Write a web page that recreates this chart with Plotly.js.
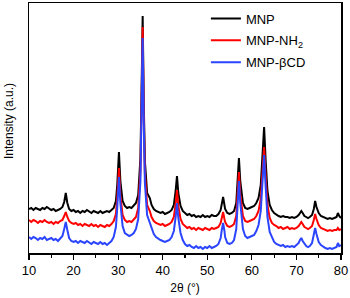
<!DOCTYPE html>
<html>
<head>
<meta charset="utf-8">
<script src="https://cdn.plot.ly/plotly-3.0.1.min.js"></script>
<style>html,body{margin:0;padding:0;background:#fff;}#chart{width:350px;height:298px;}</style>
</head>
<body>
<div id="chart"></div>
<script>
// 2θ positions (degrees)
const twoTheta = [
  10,10.5,11,11.5,12,12.5,13,13.5,14,14.5,15,15.5,16,16.5,17,17.5,
  17.9,18.25,18.6,
  19,19.5,20,20.5,21,21.5,22,22.5,23,23.5,24,24.5,25,25.5,26,26.5,27,27.5,28,28.5,29,29.5,
  29.8,30.18,30.5,
  31,31.5,32,32.5,33,33.5,34,34.5,35,35.25,35.5,35.75,36,36.5,37.1,37.5,38,38.5,39,39.5,40,40.5,41,41.5,42,42.5,
  42.9,43.2,43.5,
  44,44.5,45,45.5,46,46.5,47,47.5,48,48.5,49,49.5,50,50.5,51,51.5,52,52.5,53,
  53.25,53.55,53.85,
  54,54.5,55,55.5,56,56.5,
  56.8,57.1,57.4,
  58,58.5,59,59.5,60,60.5,61,61.5,62,
  62.4,62.75,63.1,
  63.5,64,64.5,65,65.5,66,66.5,67,67.5,68,68.5,69,69.5,70,70.5,
  70.8,71.1,71.4,
  71.8,72.2,72.6,73,73.5,73.9,74.2,74.5,75,75.5,76,76.5,77,77.5,78,78.5,79,79.3,79.6,80
];
// intensities (a.u.), stacked patterns
const intensityMNP = [
  44,45,43,45,44,43,45,44,46,44,43,44,42,43,44,46,
  51,60,50,
  44,42,43,41,42,40,42,41,43,41,40,42,41,40,42,40,41,42,41,43,45,52,
  68,101,72,
  52,47,45,46,45,47,50,58,95,160,237,150,92,60,55,48,44,42,41,40,41,39,40,41,43,48,
  62,77,60,
  47,42,40,38,39,37,38,36,37,36,38,36,37,36,38,37,37,39,43,
  50,56,48,
  44,40,39,40,42,50,
  70,95,72,
  50,45,44,45,46,47,50,55,68,
  95,126,92,
  62,48,43,40,38,37,36,37,36,36,35,36,35,36,38,
  40,42,40,
  37,36,35,36,38,44,52,46,40,37,36,35,34,35,34,35,36,40,37,35
];
const intensityNH2 = [
  33,31,33,32,30,32,31,33,31,30,31,29,31,30,32,33,
  37,41,36,
  32,30,29,30,28,29,27,29,28,27,29,27,28,26,28,27,26,28,27,29,32,39,
  55,85,58,
  38,33,31,32,31,33,36,45,82,148,226,138,80,48,42,36,32,30,29,28,29,27,28,29,31,36,
  49,63,47,
  34,29,27,25,26,24,25,23,25,24,23,25,24,23,25,24,25,26,30,
  36,41,34,
  31,27,26,27,29,37,
  57,81,59,
  37,32,31,32,33,34,37,42,54,
  78,106,76,
  48,35,30,28,27,25,26,24,25,26,24,25,24,25,27,
  29,31,29,
  26,25,24,25,27,33,39,34,28,25,24,23,22,23,22,23,23,25,23,24
];
const intensityBCD = [
  16,14,16,15,13,15,14,16,13,14,15,13,14,12,14,17,
  24,31,23,
  15,12,11,12,10,12,11,10,12,10,9,11,10,9,11,9,10,8,10,12,16,26,
  45,76,50,
  27,20,18,17,18,20,24,34,72,140,215,130,70,38,30,24,19,16,14,13,12,11,12,13,16,22,
  36,50,35,
  20,13,9,7,8,6,5,7,5,6,4,6,5,7,5,6,7,9,15,
  23,30,22,
  16,10,9,10,13,24,
  47,72,50,
  24,17,15,16,17,18,22,28,42,
  68,98,66,
  36,21,15,11,9,8,7,8,6,7,6,7,6,8,10,
  13,15,12,
  9,7,6,7,10,18,25,19,11,8,6,5,4,5,4,5,6,10,7,8
];
const seriesNames = ['MNP', 'MNP-NH<sub>2</sub>', 'MNP-βCD'];
const xTicks = [10,20,30,40,50,60,70,80];

const colors = ['#000000', '#ff0000', '#2b45ff'];
const ys = [intensityMNP, intensityNH2, intensityBCD];
const traces = ys.map((y, i) => ({
  x: twoTheta, y: y, type: 'scatter', mode: 'lines',
  name: seriesNames[i], legendgroup: 'g' + i,
  line: {color: colors[i], width: 2}
}));

const font = {family: 'Liberation Sans, Arial, sans-serif', color: '#000'};
const layout = {
  width: 350, height: 298,
  margin: {l: 29, r: 9, t: 3, b: 45},
  paper_bgcolor: '#fff', plot_bgcolor: '#fff',
  font: font,
  showlegend: true,
  legend: {x: 0.567, y: 0.998, xanchor: 'left', yanchor: 'top', bgcolor: 'rgba(0,0,0,0)',
           font: {family: font.family, size: 13, color: '#000'}, tracegroupgap: 2},
  xaxis: {
    range: [10, 80], tickvals: xTicks, ticktext: xTicks.map(String),
    ticks: 'outside', ticklen: 5, tickwidth: 1.2, tickcolor: '#000',
    minor: {dtick: 5, tick0: 10, ticks: 'outside', ticklen: 3, tickwidth: 1.2, tickcolor: '#000'},
    showline: true, linecolor: '#000', linewidth: 1.5, mirror: true,
    showgrid: false, zeroline: false,
    tickfont: {family: font.family, size: 13, color: '#000'},
    title: {text: '2θ (°)', font: {family: font.family, size: 12, color: '#000'}, standoff: 6}
  },
  yaxis: {
    range: [0, 250], showticklabels: false, ticks: '',
    showline: true, linecolor: '#000', linewidth: 1.5, mirror: true,
    showgrid: false, zeroline: false
  },
  annotations: [{
    text: 'Intensity (a.u.)', xref: 'paper', yref: 'paper',
    x: -0.064, y: 0.528, xanchor: 'center', yanchor: 'middle', textangle: -90,
    showarrow: false, font: {family: font.family, size: 12, color: '#000'}
  }]
};
Plotly.newPlot('chart', traces, layout, {displayModeBar: false, staticPlot: true});
</script>
</body>
</html>
